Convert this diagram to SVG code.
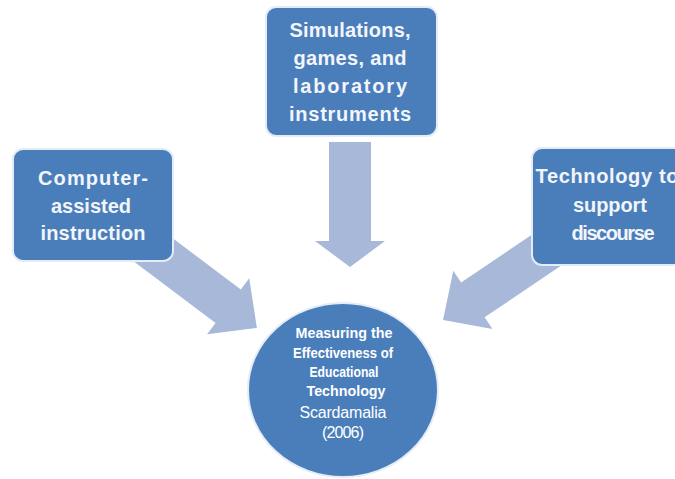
<svg xmlns="http://www.w3.org/2000/svg" width="675" height="479" viewBox="0 0 675 479">
<style>
.box{fill:#4A7EBB;stroke:#E4ECF6;stroke-width:2}
.arrow{fill:#A7B8D8}
.bt{font-family:"Liberation Sans",Arial,sans-serif;font-weight:bold;font-size:20px;fill:#F2F5FA;text-anchor:middle}
.ct{font-family:"Liberation Sans",Arial,sans-serif;font-weight:bold;font-size:15px;fill:#FFFFFF;text-anchor:middle}
.cs{font-family:"Liberation Sans",Arial,sans-serif;font-size:16px;fill:#FFFFFF;text-anchor:middle}
</style>
<rect width="675" height="479" fill="#FFFFFF"/>
<g id="connectors">
<polygon class="arrow" transform="translate(350,142) rotate(90)" points="0,-21 99,-21 99,-35 125,0 99,35 99,21 0,21"/>
<polygon class="arrow" transform="translate(143.5,242.5) rotate(37)" points="0,-21 106,-21 106,-35 142,0 106,35 106,21 0,21"/>
<polygon class="arrow" transform="translate(556.6,243.4) rotate(146)" points="0,-21 101,-21 101,-35 137,0 101,35 101,21 0,21"/>
</g>
<g id="node-simulations">
<rect class="box" x="266" y="7" width="171" height="129" rx="10"/>
<text class="bt" x="350" y="37" textLength="121">Simulations,</text>
<text class="bt" x="350" y="65" textLength="113">games, and</text>
<text class="bt" x="350" y="93" textLength="114">laboratory</text>
<text class="bt" x="350" y="121" textLength="122">instruments</text>
</g>
<g id="node-computer">
<rect class="box" x="13" y="149" width="160" height="112" rx="10"/>
<text class="bt" x="93" y="185" textLength="110">Computer-</text>
<text class="bt" x="91" y="213" textLength="80">assisted</text>
<text class="bt" x="93" y="240" textLength="105">instruction</text>
</g>
<g id="node-technology">
<rect class="box" x="532" y="148" width="160" height="117" rx="10"/>
<text class="bt" x="607" y="183" textLength="143">Technology to</text>
<text class="bt" x="610" y="212" textLength="74">support</text>
<text class="bt" x="613" y="240" textLength="83">discourse</text>
</g>
<g id="node-center">
<ellipse class="box" cx="343" cy="390" rx="95" ry="87"/>
<text class="ct" x="344" y="338" textLength="97" lengthAdjust="spacingAndGlyphs">Measuring the</text>
<text class="ct" x="343" y="358" textLength="100" lengthAdjust="spacingAndGlyphs">Effectiveness of</text>
<text class="ct" x="344" y="377" textLength="69" lengthAdjust="spacingAndGlyphs">Educational</text>
<text class="ct" x="346" y="396" textLength="79" lengthAdjust="spacingAndGlyphs">Technology</text>
<text class="cs" x="343" y="418" textLength="87">Scardamalia</text>
<text class="cs" x="343" y="438" textLength="42">(2006)</text>
</g>
</svg>
